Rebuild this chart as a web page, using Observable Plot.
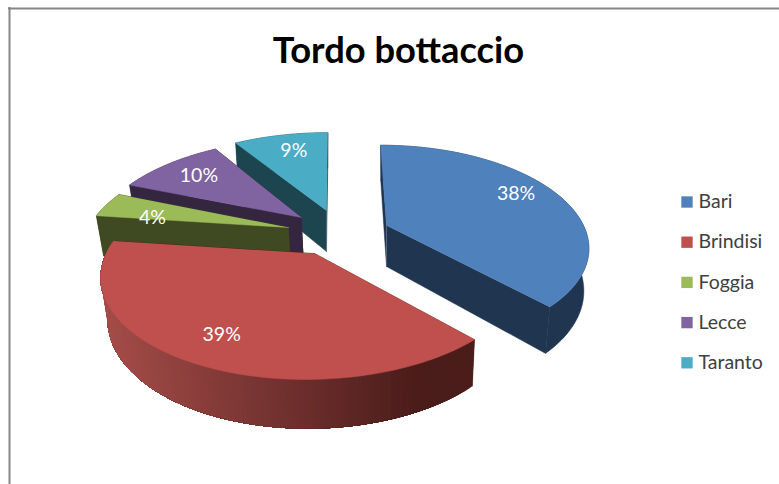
<!DOCTYPE html>
<html><head><meta charset="utf-8">
<style>html,body{margin:0;padding:0;background:#fff}svg{display:block}</style>
<script src="https://cdn.jsdelivr.net/npm/d3@7"></script>
<script src="https://cdn.jsdelivr.net/npm/@observablehq/plot@0.6"></script>
</head><body><script>
const categories = ["Bari","Brindisi","Foggia","Lecce","Taranto"];
const values = [38,39,4,10,9];
const labels = ["38%","39%","4%","10%","9%"];
const topColors = ["#4f81bd","#c0504d","#9bbb59","#8064a2","#4bacc6"];
const wallColors = ["#1f3550","#4a1c1a","#3f4a22","#352640","#1c4550"];
const chartTitle = "Tordo bottaccio";

// Perspective layout of the exploded pie
const W = 779, H = 484;
const vanishY = -267, tilt = 0.195, thickness = 41;
const wallShrink = 0.025;
const vanishX = [350,350,350,350,334];
const wallPivotX = [386,386,386,386,326];
const radii = [197,208,200,202,200];
const apexX = [386,314,288,301,326], apexY = [225,253,227,217,210];
const labelDx = [1,-6,2,0,3], labelDy = [-7,3,8,0,-1];
const drawOrder = [4,3,2,0,1];

const arcs = d3.pie().sort(null).startAngle(0).endAngle(2*Math.PI)(values);
function project(i, angle, r){
  const u = Math.sin(angle)*r, v = -Math.cos(angle)*r, w = 1 - tilt*v;
  return {x: vanishX[i] + (apexX[i]-vanishX[i] + radii[i]*u)/w, y: vanishY + (apexY[i]-vanishY)/w, w, i};
}
function lower(p){
  return {x: p.x + (wallPivotX[p.i]-p.x)*wallShrink, y: p.y + thickness/Math.pow(p.w,0.8)};
}
const polys = [];
let pid = 0;
function poly(points, color){
  const id = pid++;
  for (const p of points) polys.push({id, x:p.x, y:p.y, color});
}
const redGrad = d3.interpolateRgb("#a44c49","#4a1c1a");
for (const i of drawOrder){
  const a = arcs[i], n = Math.max(6, Math.round((a.endAngle-a.startAngle)*60));
  const angs = d3.range(n+1).map(k => a.startAngle + (a.endAngle-a.startAngle)*k/n);
  const pts = angs.map(t => project(i,t,1));
  const apex = project(i,0,0), s = pts[0], e = pts[n];
  // radial walls
  poly([apex,s,lower(s),lower(apex)], wallColors[i]);
  poly([apex,e,lower(e),lower(apex)], wallColors[i]);
  // outer wall: the red one is shaded along x; each strip is overdrawn by the next, leaving no seams
  if (i === 1) {
    for (let k=0;k<n;k++){
      const t = Math.min(1,Math.max(0,(pts[k].x-105)/315));
      const rest = pts.slice(k);
      poly(rest.concat([...rest].reverse().map(lower)), redGrad(t));
    }
  } else {
    poly(pts.concat([...pts].reverse().map(lower)), wallColors[i]);
  }
  // top face
  poly([apex, ...pts], topColors[i]);
}
const labelRows = arcs.map((a,i)=>{
  const p = project(i,(a.startAngle+a.endAngle)/2,0.75);
  return {x:p.x+labelDx[i],y:p.y+labelDy[i],text:labels[i]};
});
const legendRows = categories.map((c,i)=>({c,i,color:topColors[i]}));
const legendY = i => 201.5 + i*40.2;
const font = "Lato, 'Noto Sans', sans-serif";

const chart = Plot.plot({
  width:W, height:H, margin:0,
  x:{domain:[0,W],range:[0,W],axis:null},
  y:{domain:[0,H],range:[0,H],axis:null},
  color:{type:"identity"},
  style:{background:"#fff"},
  marks:[
    Plot.ruleY([8],{x1:8,x2:W,stroke:"#868686",strokeWidth:2}),
    Plot.ruleX([9],{y1:7,y2:H,stroke:"#868686",strokeWidth:2}),
    Plot.line(polys,{x:"x",y:"y",z:"id",fill:"color",stroke:"color",strokeWidth:0.5}),
    Plot.text(labelRows,{x:"x",y:"y",text:"text",fill:"#fff",fontSize:19.5,fontFamily:font}),
    Plot.text([chartTitle],{x:[398],y:[51],text:d=>d,fontSize:36.3,fontWeight:"bold",fontFamily:font,fill:"#000"}),
    Plot.dot(legendRows,{x:()=>686.5,y:d=>legendY(d.i),symbol:"square",r:6.4,fill:"color",stroke:"none"}),
    Plot.text(legendRows,{x:()=>698,y:d=>legendY(d.i),text:"c",textAnchor:"start",fontSize:19.5,fontFamily:font,fill:"#404040"})
  ]
});
document.body.appendChild(chart);
</script></body></html>
